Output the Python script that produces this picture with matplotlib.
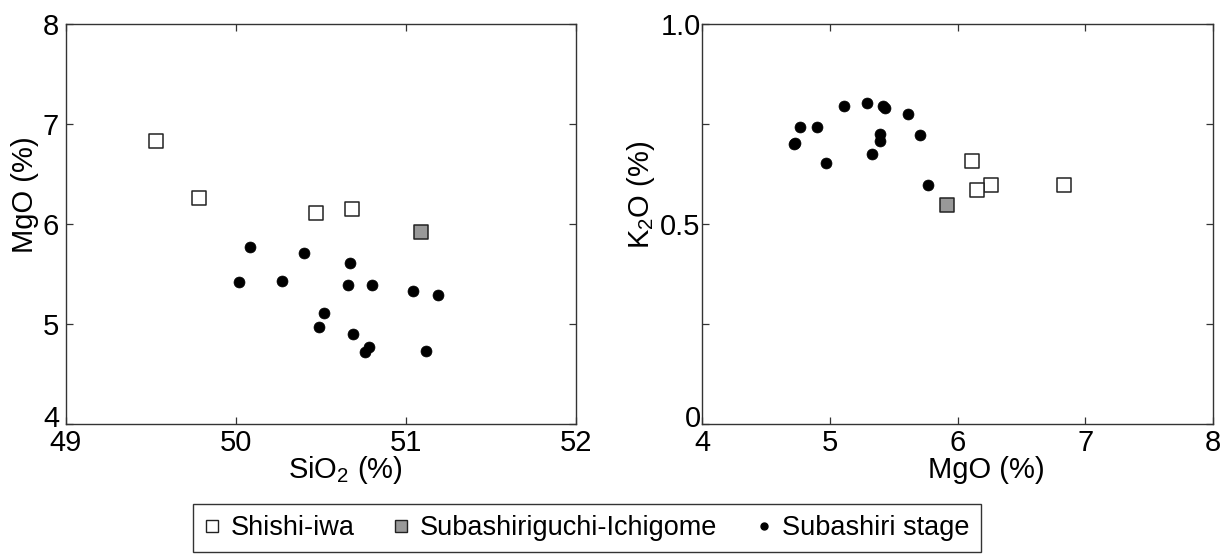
import matplotlib
matplotlib.use("Agg")
import matplotlib.pyplot as plt
from matplotlib.lines import Line2D
from matplotlib.transforms import ScaledTranslation

plt.rcParams['font.family'] = ['Liberation Sans', 'DejaVu Sans']
plt.rcParams['mathtext.fontset'] = 'custom'
plt.rcParams['mathtext.rm'] = 'Liberation Sans'
plt.rcParams['mathtext.it'] = 'Liberation Sans'

# ---- data ----
shishi_sio2 = [49.53, 49.78, 50.47, 50.68]
shishi_mgo = [6.83, 6.26, 6.11, 6.15]
shishi_k2o = [0.598, 0.597, 0.657, 0.585]

ichigome_sio2 = [51.09]
ichigome_mgo = [5.92]
ichigome_k2o = [0.547]

stage_sio2 = [50.76, 51.12, 50.78, 50.69, 50.49, 50.52, 51.19, 51.04,
              50.66, 50.80, 50.02, 50.27, 50.67, 50.40, 50.08]
stage_mgo = [4.72, 4.73, 4.77, 4.90, 4.97, 5.11, 5.29, 5.33,
             5.39, 5.39, 5.42, 5.43, 5.61, 5.71, 5.77]
stage_k2o = [0.700, 0.702, 0.742, 0.743, 0.652, 0.796, 0.802, 0.676,
             0.725, 0.708, 0.796, 0.791, 0.776, 0.722, 0.598]

labels = ['Shishi-iwa', 'Subashiriguchi-Ichigome', 'Subashiri stage']

left_xticks = [49, 50, 51, 52]
left_yticks = [4, 5, 6, 7, 8]
right_xticks = [4, 5, 6, 7, 8]
right_yticks = [0, 0.25, 0.5, 0.75, 1.0]
right_yticklabels = ['0', '', '0.5', '', '1.0']

# ---- figure ----
W, H = 1221, 560
fig = plt.figure(figsize=(W / 100, H / 100), dpi=100)
ax1 = fig.add_axes([66 / W, 1 - 423.7 / H, 510 / W, 399.5 / H])
ax2 = fig.add_axes([702 / W, 1 - 423.7 / H, 511 / W, 399.5 / H])

edge = '#222222'
gray = '#999999'
sq_s = 88
dot_s = 62

def draw(ax, x_sh, y_sh, x_ic, y_ic, x_st, y_st):
    ax.scatter(x_sh, y_sh, marker='s', s=sq_s, facecolor='white',
               edgecolor=edge, linewidth=1.1, zorder=3)
    ax.scatter(x_ic, y_ic, marker='s', s=sq_s, facecolor=gray,
               edgecolor=edge, linewidth=1.1, zorder=3)
    ax.scatter(x_st, y_st, marker='o', s=dot_s, facecolor='black',
               edgecolor='black', linewidth=0.5, zorder=3)

draw(ax1, shishi_sio2, shishi_mgo, ichigome_sio2, ichigome_mgo, stage_sio2, stage_mgo)
draw(ax2, shishi_mgo, shishi_k2o, ichigome_mgo, ichigome_k2o, stage_mgo, stage_k2o)

ax1.set_xlim(49, 52)
ax1.set_ylim(4, 8)
ax1.set_xticks(left_xticks)
ax1.set_yticks(left_yticks)
ax2.set_xlim(4, 8)
ax2.set_ylim(0, 1.0)
ax2.set_xticks(right_xticks)
ax2.set_yticks(right_yticks)
ax2.set_yticklabels(right_yticklabels)

for ax in (ax1, ax2):
    for sp in ax.spines.values():
        sp.set_linewidth(1.0)
        sp.set_color('#333333')
    ax.tick_params(direction='in', length=5, width=0.9, color='#333333',
                   top=True, right=True, labelsize=21)
    ax.tick_params(axis='x', pad=4)

ax1.tick_params(axis='y', pad=5)
ax2.tick_params(axis='y', pad=1)

# lift the lowest y tick label a little, as in the reference
fig.canvas.draw()
lift = ScaledTranslation(0, 8 / 100, fig.dpi_scale_trans)
for ax in (ax1, ax2):
    lab = ax.get_yticklabels()[0]
    lab.set_transform(lab.get_transform() + lift)

ax1.set_xlabel(r'SiO$_2$ (%)', fontsize=21, va='center')
ax1.xaxis.set_label_coords(0.547, -0.116)
ax1.set_ylabel('MgO (%)', fontsize=21, va='center')
ax1.yaxis.set_label_coords(-0.080, 0.572)

ax2.set_xlabel('MgO (%)', fontsize=21, va='center')
ax2.xaxis.set_label_coords(0.556, -0.116)
ax2.set_ylabel(r'K$_2$O (%)', fontsize=21, va='center')
ax2.yaxis.set_label_coords(-0.119, 0.572)

handles = [
    Line2D([], [], linestyle='none', marker='s', markersize=8.5,
           markerfacecolor='white', markeredgecolor=edge, markeredgewidth=1.0),
    Line2D([], [], linestyle='none', marker='s', markersize=8.5,
           markerfacecolor=gray, markeredgecolor=edge, markeredgewidth=1.0),
    Line2D([], [], linestyle='none', marker='o', markersize=5,
           markerfacecolor='black', markeredgecolor='black'),
]
leg = fig.legend(handles, labels, loc='center', ncol=3,
                 bbox_to_anchor=(587 / W, 1 - 528 / H),
                 fontsize=19.5, frameon=True, fancybox=False, shadow=False,
                 handlelength=0.6, handletextpad=0.4, columnspacing=1.4,
                 borderpad=0.4, borderaxespad=0)
leg.get_frame().set_edgecolor('black')
leg.get_frame().set_linewidth(1.0)

fig.savefig('out.png', dpi=100)
